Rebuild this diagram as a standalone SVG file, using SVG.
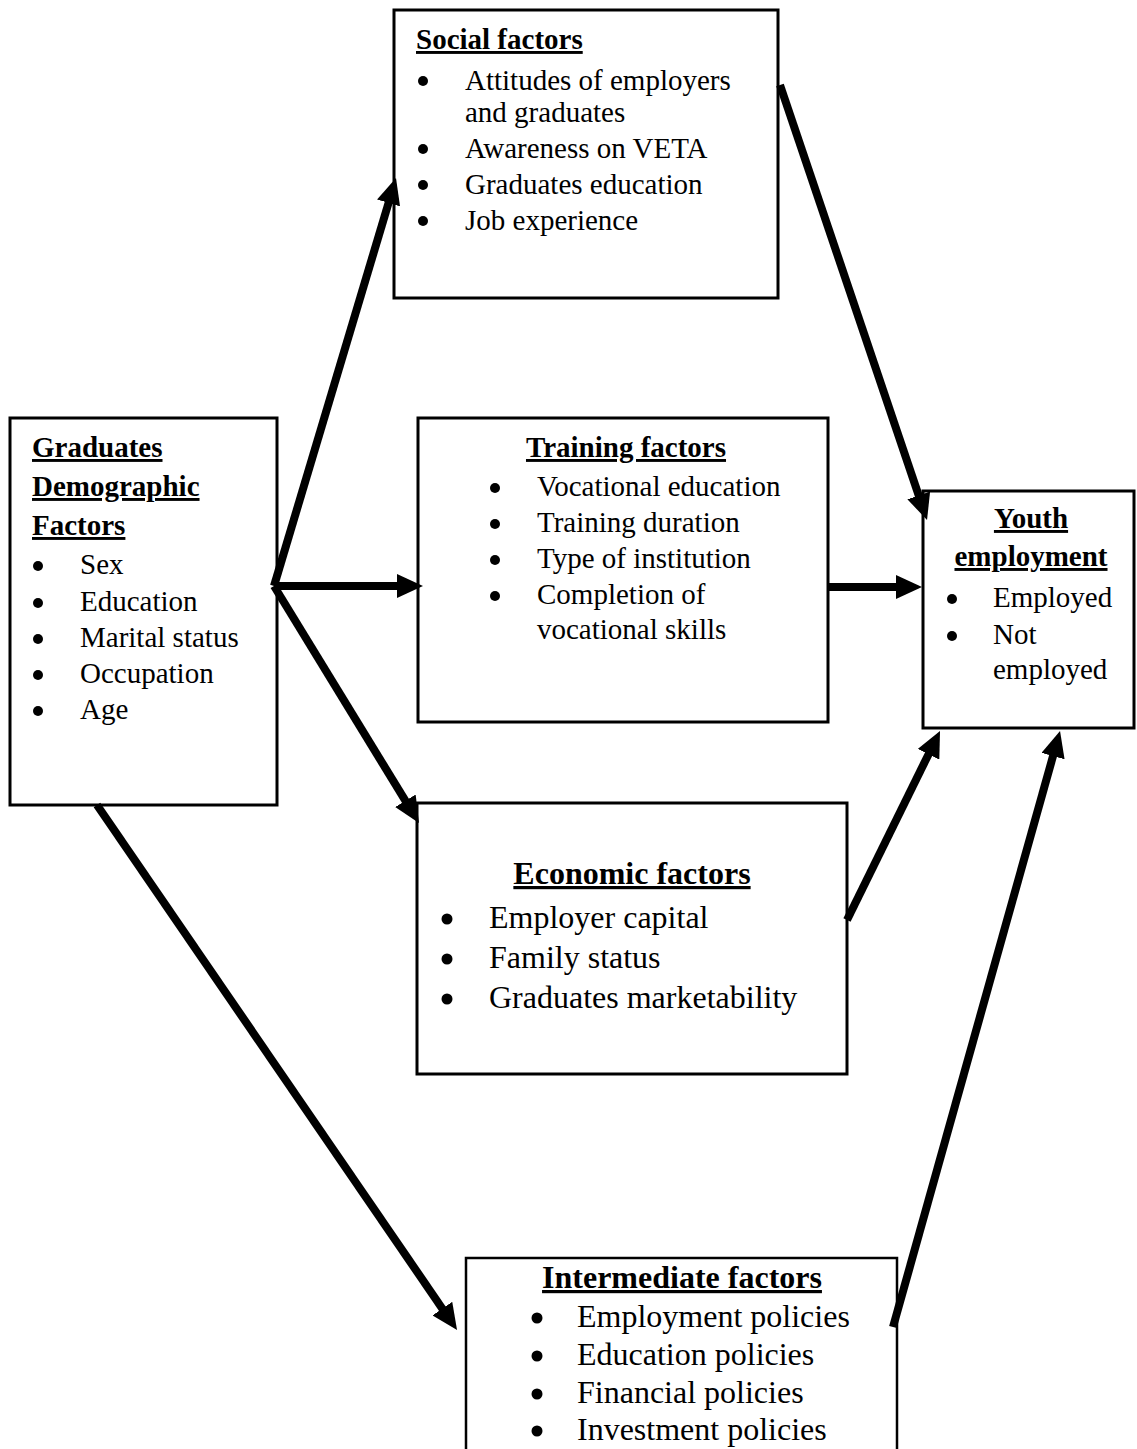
<svg xmlns="http://www.w3.org/2000/svg" width="1137" height="1449" viewBox="0 0 1137 1449">
<style>
.box{fill:#fff;stroke:#000;stroke-width:3}
.t{font-family:"Liberation Serif","Times New Roman",serif;font-size:29px;fill:#000}
.big{font-size:32px}
.h{font-weight:bold;text-decoration:underline}
.mid{text-anchor:middle}
.b{fill:#000}
.conn line{stroke:#000;stroke-width:8;fill:none;marker-end:url(#ah)}
</style>
<defs>
<marker id="ah" markerUnits="userSpaceOnUse" viewBox="0 0 26 24" markerWidth="26" markerHeight="24" refX="4" refY="12" orient="auto">
<path d="M0,0 L26,12 L0,24 z" fill="#000"/>
</marker>
</defs>
<rect width="1137" height="1449" fill="#fff"/>

<g id="social">
<rect class="box" x="394" y="10" width="384" height="288"/>
<text class="t h" x="416" y="49">Social factors</text>
<circle class="b" cx="423" cy="81" r="5"/>
<text class="t" x="465" y="90">Attitudes of employers</text>
<text class="t" x="465" y="122">and graduates</text>
<circle class="b" cx="423" cy="149" r="5"/>
<text class="t" x="465" y="158">Awareness on VETA</text>
<circle class="b" cx="423" cy="185" r="5"/>
<text class="t" x="465" y="194">Graduates education</text>
<circle class="b" cx="423" cy="221" r="5"/>
<text class="t" x="465" y="230">Job experience</text>
</g>

<g id="demographic">
<rect class="box" x="10" y="418" width="267" height="387"/>
<text class="t h" x="32" y="457">Graduates</text>
<text class="t h" x="32" y="496">Demographic</text>
<text class="t h" x="32" y="535">Factors</text>
<circle class="b" cx="38" cy="566" r="5"/>
<text class="t" x="80" y="574">Sex</text>
<circle class="b" cx="38" cy="603" r="5"/>
<text class="t" x="80" y="611">Education</text>
<circle class="b" cx="38" cy="639" r="5"/>
<text class="t" x="80" y="647">Marital status</text>
<circle class="b" cx="38" cy="675" r="5"/>
<text class="t" x="80" y="683">Occupation</text>
<circle class="b" cx="38" cy="711" r="5"/>
<text class="t" x="80" y="719">Age</text>
</g>

<g id="training">
<rect class="box" x="418" y="418" width="410" height="304"/>
<text class="t h mid" x="626" y="457">Training factors</text>
<circle class="b" cx="495" cy="488" r="5"/>
<text class="t" x="537" y="496">Vocational education</text>
<circle class="b" cx="495" cy="524" r="5"/>
<text class="t" x="537" y="532">Training duration</text>
<circle class="b" cx="495" cy="560" r="5"/>
<text class="t" x="537" y="568">Type of institution</text>
<circle class="b" cx="495" cy="596" r="5"/>
<text class="t" x="537" y="604">Completion of</text>
<text class="t" x="537" y="639">vocational skills</text>
</g>

<g id="youth">
<rect class="box" x="923" y="491" width="211" height="237"/>
<text class="t h mid" x="1031" y="528">Youth</text>
<text class="t h mid" x="1031" y="566">employment</text>
<circle class="b" cx="952" cy="599" r="5"/>
<text class="t" x="993" y="607">Employed</text>
<circle class="b" cx="952" cy="636" r="5"/>
<text class="t" x="993" y="644">Not</text>
<text class="t" x="993" y="679">employed</text>
</g>

<g id="economic">
<rect class="box" x="417" y="803" width="430" height="271"/>
<text class="t big h mid" x="632" y="884">Economic factors</text>
<circle class="b" cx="447" cy="919" r="5.5"/>
<text class="t big" x="489" y="928">Employer capital</text>
<circle class="b" cx="447" cy="959" r="5.5"/>
<text class="t big" x="489" y="968">Family status</text>
<circle class="b" cx="447" cy="999" r="5.5"/>
<text class="t big" x="489" y="1008">Graduates marketability</text>
</g>

<g id="intermediate">
<rect class="box" x="466" y="1258" width="431" height="260" style="stroke-width:2.5"/>
<text class="t big h mid" x="682" y="1288">Intermediate factors</text>
<circle class="b" cx="537" cy="1318" r="5.5"/>
<text class="t big" x="577" y="1327">Employment policies</text>
<circle class="b" cx="537" cy="1356" r="5.5"/>
<text class="t big" x="577" y="1365">Education policies</text>
<circle class="b" cx="537" cy="1394" r="5.5"/>
<text class="t big" x="577" y="1403">Financial policies</text>
<circle class="b" cx="537" cy="1431" r="5.5"/>
<text class="t big" x="577" y="1440">Investment policies</text>
</g>

<g id="connectors" class="conn">
<line x1="274" y1="586" x2="389.7" y2="199.1"/>
<line x1="274" y1="586" x2="401" y2="586"/>
<line x1="274" y1="586" x2="407.5" y2="804.2"/>
<line x1="97" y1="805" x2="444.6" y2="1311.9"/>
<line x1="780" y1="85" x2="920" y2="499.2"/>
<line x1="828" y1="587" x2="900" y2="587"/>
<line x1="847" y1="920" x2="930.3" y2="750.7"/>
<line x1="893" y1="1327" x2="1054.1" y2="752.2"/>
</g>
</svg>
